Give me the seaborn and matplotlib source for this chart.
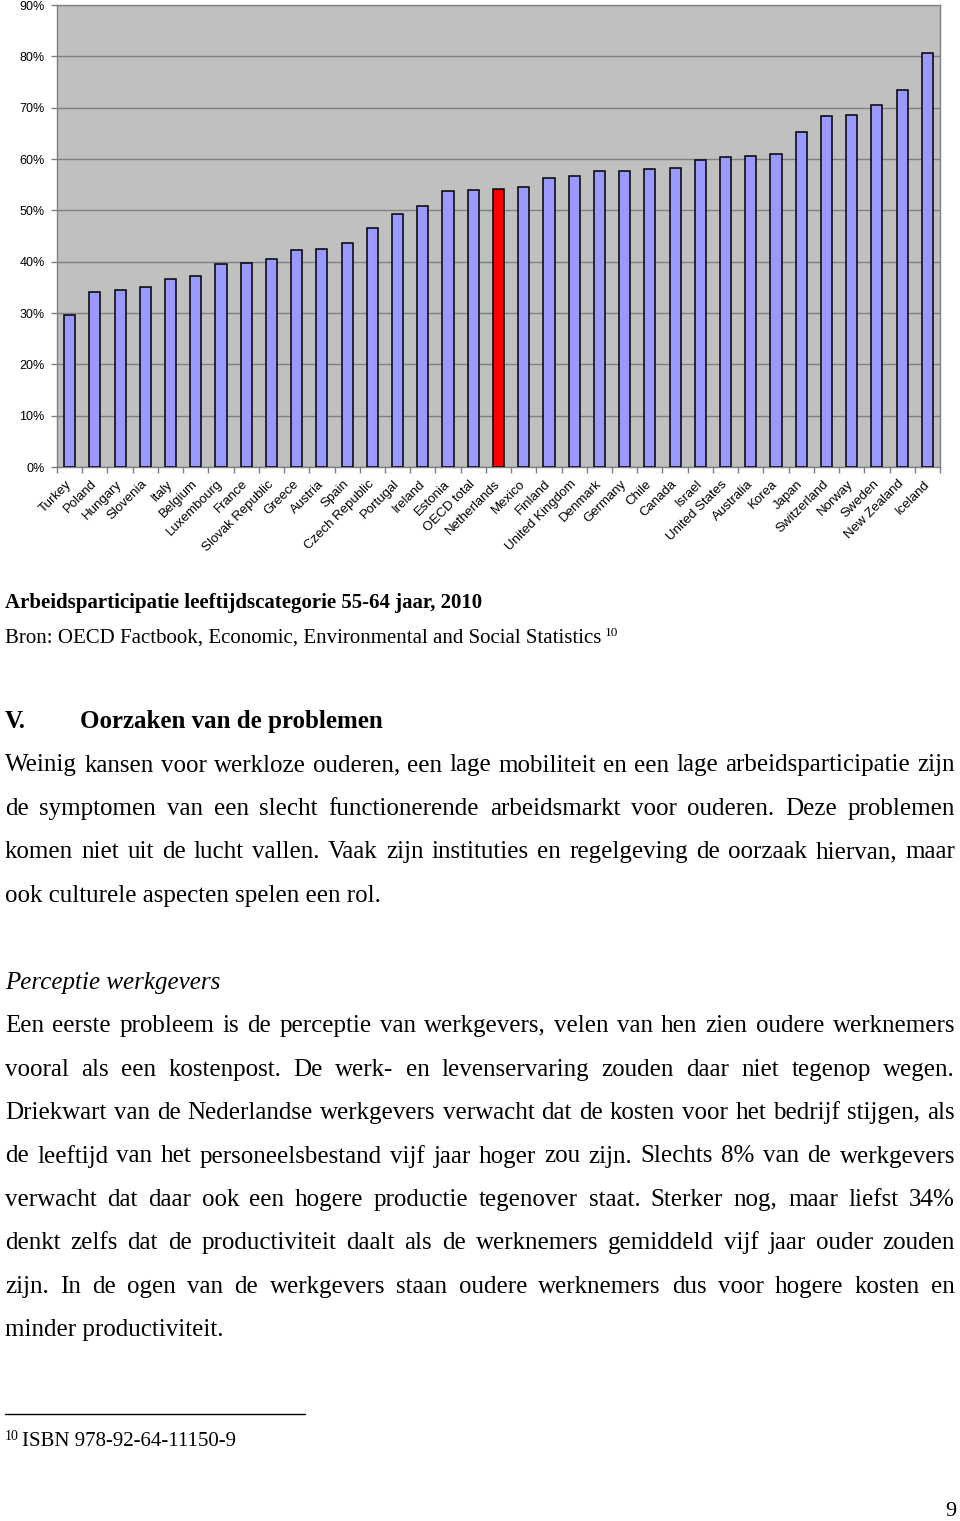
import matplotlib
matplotlib.use("Agg")
import matplotlib.pyplot as plt
from matplotlib.font_manager import FontProperties
from matplotlib.lines import Line2D
from matplotlib.ticker import FuncFormatter
import seaborn as sns
import pandas as pd
import numpy as np

# ---------------- data ----------------
countries = ["Turkey", "Poland", "Hungary", "Slovenia", "Italy", "Belgium", "Luxembourg",
             "France", "Slovak Republic", "Greece", "Austria", "Spain", "Czech Republic",
             "Portugal", "Ireland", "Estonia", "OECD total", "Netherlands", "Mexico",
             "Finland", "United Kingdom", "Denmark", "Germany", "Chile", "Canada", "Israel",
             "United States", "Australia", "Korea", "Japan", "Switzerland", "Norway",
             "Sweden", "New Zealand", "Iceland"]
values = [29.6, 34.0, 34.4, 35.1, 36.6, 37.3, 39.6,
          39.7, 40.6, 42.3, 42.5, 43.6, 46.5,
          49.2, 50.8, 53.8, 54.0, 54.1, 54.5,
          56.3, 56.6, 57.6, 57.7, 58.0, 58.3, 59.8,
          60.3, 60.6, 60.9, 65.2, 68.4, 68.6,
          70.6, 73.4, 80.6]
highlight = "Netherlands"
y_ticks = list(range(0, 91, 10))

caption = "Arbeidsparticipatie leeftijdscategorie 55-64 jaar, 2010"
source = "Bron: OECD Factbook, Economic, Environmental and Social Statistics"
heading_num = "V."
heading = "Oorzaken van de problemen"
para1 = ["Weinig kansen voor werkloze ouderen, een lage mobiliteit en een lage arbeidsparticipatie zijn",
         "de symptomen van een slecht functionerende arbeidsmarkt voor ouderen. Deze problemen",
         "komen niet uit de lucht vallen. Vaak zijn instituties en regelgeving de oorzaak hiervan, maar",
         "ook culturele aspecten spelen een rol."]
subheading = "Perceptie werkgevers"
para2 = ["Een eerste probleem is de perceptie van werkgevers, velen van hen zien oudere werknemers",
         "vooral als een kostenpost. De werk- en levenservaring zouden daar niet tegenop wegen.",
         "Driekwart van de Nederlandse werkgevers verwacht dat de kosten voor het bedrijf stijgen, als",
         "de leeftijd van het personeelsbestand vijf jaar hoger zou zijn. Slechts 8% van de werkgevers",
         "verwacht dat daar ook een hogere productie tegenover staat. Sterker nog, maar liefst 34%",
         "denkt zelfs dat de productiviteit daalt als de werknemers gemiddeld vijf jaar ouder zouden",
         "zijn. In de ogen van de werkgevers staan oudere werknemers dus voor hogere kosten en",
         "minder productiviteit."]
footnote_mark = "10"
footnote = "ISBN 978-92-64-11150-9"
page_number = "9"

# ---------------- figure ----------------
sns.set_theme(style="white")
plt.rcParams['font.family'] = ['Liberation Sans', 'DejaVu Sans']

W, H = 960, 1521
fig = plt.figure(figsize=(W / 100, H / 100), dpi=100)
fig.patch.set_facecolor("white")

ax = fig.add_axes([57 / W, 1 - 467 / H, 883 / W, 462 / H])
df = pd.DataFrame({"country": countries, "value": values})
palette = {c: ("#FF0000" if c == highlight else "#9999FF") for c in countries}
sns.barplot(data=df, x="country", y="value", hue="country", palette=palette,
            legend=False, width=0.44, edgecolor="#000000", linewidth=1.1,
            saturation=1, ax=ax, zorder=3)

ax.set_facecolor("#C0C0C0")
ax.set_xlim(-0.5, len(countries) - 0.5)
ax.set_ylim(0, 90)
ax.set_yticks(y_ticks)
ax.yaxis.set_major_formatter(FuncFormatter(lambda v, p: f"{int(round(v))}%"))
ax.yaxis.grid(True, color="#808080", linewidth=1)
ax.xaxis.grid(False)
ax.set_axisbelow(True)
ax.set_xlabel("")
ax.set_ylabel("")
for s in ax.spines.values():
    s.set_visible(True)
    s.set_color("#808080")
    s.set_linewidth(1)

ax.tick_params(axis="y", left=True, length=4, width=1, color="#808080", pad=5,
               labelsize=9, labelcolor="black")
ax.set_xticks(np.arange(-0.5, len(countries), 1), minor=True)
ax.tick_params(axis="x", which="minor", bottom=True, length=4, width=1, color="#808080")
ax.tick_params(axis="x", which="major", bottom=True, length=0, pad=11,
               labelsize=9.5, labelcolor="black")
for lab in ax.get_xticklabels():
    lab.set_rotation(45)
    lab.set_ha("right")
    lab.set_va("center")
    lab.set_rotation_mode("anchor")

# ---------------- page text ----------------
serif = ['Liberation Serif', 'DejaVu Serif']
renderer = fig.canvas.get_renderer()
X0, X1 = 5, 955


def put(x, y, s, size, weight="normal", style="normal"):
    fig.text(x / W, 1 - y / H, s, fontsize=size, family=serif, fontweight=weight,
             fontstyle=style, ha="left", va="baseline", color="black")


def line(s, y, size=18, justify=True, weight="normal", style="normal"):
    if not justify:
        put(X0, y, s, size, weight, style)
        return
    words = s.split(" ")
    prop = FontProperties(family=serif, size=size, weight=weight, style=style)
    widths = [renderer.get_text_width_height_descent(w, prop, ismath=False)[0] for w in words]
    gap = (X1 - X0 - sum(widths)) / (len(words) - 1)
    x = X0
    for w, wd in zip(words, widths):
        put(x, y, w, size, weight, style)
        x += wd + gap


# caption + source
put(X0, 608, caption, 15, weight="bold")
put(X0, 643, source, 15)
src_w = renderer.get_text_width_height_descent(
    source, FontProperties(family=serif, size=15), ismath=False)[0]
put(X0 + src_w + 3, 636, footnote_mark, 9.5)

# heading
put(X0, 728, heading_num, 18, weight="bold")
put(80, 728, heading, 18, weight="bold")

# paragraph 1
y = 771.5
step = 43.4
for i, s in enumerate(para1):
    line(s, y + i * step, justify=(i < len(para1) - 1))

# subheading
put(X0, 989, subheading, 18, style="italic")

# paragraph 2
y = 1032.3
for i, s in enumerate(para2):
    line(s, y + i * step, justify=(i < len(para2) - 1))

# footnote
fig.add_artist(Line2D([5 / W, 305 / W], [1 - 1414 / H, 1 - 1414 / H],
                      color="black", linewidth=1, transform=fig.transFigure))
put(X0, 1440, footnote_mark, 10)
put(22, 1446, footnote, 15)

# page number
put(945, 1516, page_number, 16)

fig.savefig("out.png", dpi=100, facecolor="white")
